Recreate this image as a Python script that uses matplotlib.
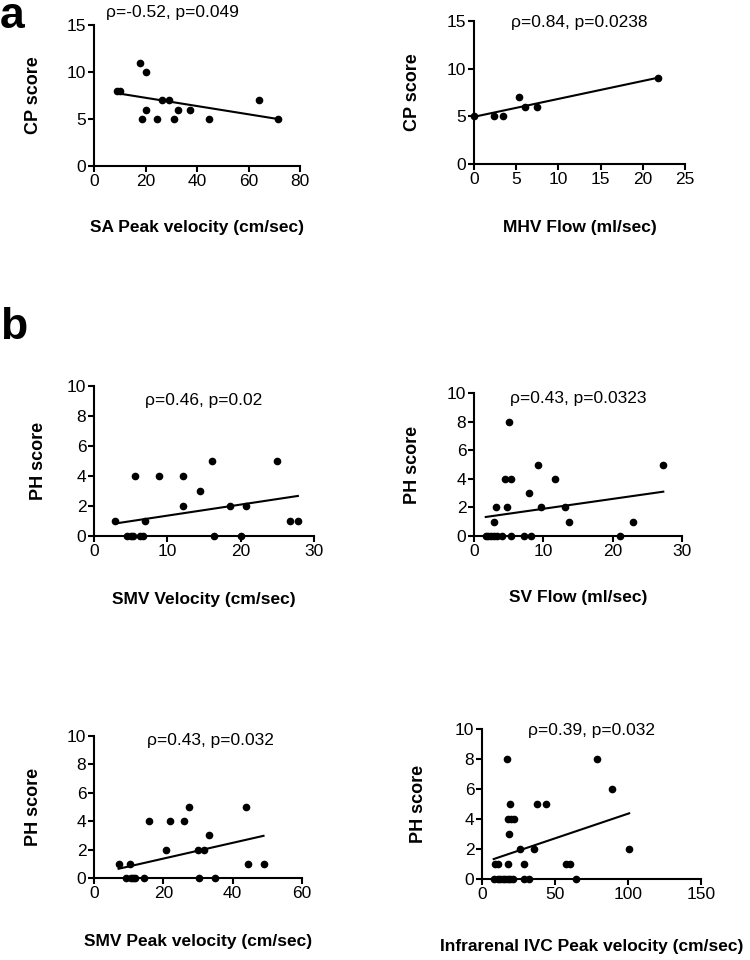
import numpy as np
import matplotlib.pyplot as plt

plt.rcParams['font.family'] = ['Liberation Sans', 'DejaVu Sans']

W, H = 750, 960

# ---- panel a: CP score ----
sa_peak_x = [8.8, 10.1, 17.7, 20.0, 18.5, 20.0, 24.5, 26.5, 29.0, 31.0, 32.6, 37.4, 44.5, 64.1, 71.4]
sa_peak_cp = [8, 8, 11, 10, 5, 6, 5, 7, 7, 5, 6, 6, 5, 7, 5]
sa_peak_fit = [7.75, 5.0]

mhv_flow_x = [0.0, 2.4, 3.4, 5.3, 6.0, 7.5, 21.8]
mhv_flow_cp = [5, 5, 5, 7, 6, 6, 9]
mhv_flow_fit = [4.95, 9.05]

# ---- panel b: PH score ----
smv_vel_x = [2.85, 4.5, 5.0, 5.3, 5.6, 6.3, 6.7, 6.9, 8.8, 12.1, 12.1, 14.5, 16.1, 16.4,
             18.6, 20.1, 20.7, 24.9, 26.7, 27.8]
smv_vel_ph = [1, 0, 0, 0, 4, 0, 0, 1, 4, 4, 2, 3, 5, 0, 2, 0, 2, 5, 1, 1]
smv_vel_fit = [0.83, 2.67]

sv_flow_x = [1.7, 2.0, 2.4, 2.9, 3.3, 4.0, 5.4, 7.2, 8.2, 21.0,
             2.95, 3.2, 4.5, 4.8, 5.1, 5.3, 8.0, 9.3, 9.6, 11.7, 13.1, 13.7, 22.9, 27.3]
sv_flow_ph = [0, 0, 0, 0, 0, 0, 0, 0, 0, 0,
              1, 2, 4, 2, 8, 4, 3, 5, 2, 4, 2, 1, 1, 5]
sv_flow_fit = [1.33, 3.1]

smv_peak_x = [7.1, 9.3, 10.3, 10.6, 11.3, 11.9, 14.3, 15.8, 20.7, 22.0, 25.9, 27.3, 30.0,
              30.2, 31.6, 33.1, 34.8, 43.9, 44.4, 48.9]
smv_peak_ph = [1, 0, 1, 0, 0, 0, 0, 4, 2, 4, 4, 5, 2, 0, 2, 3, 0, 5, 1, 1]
smv_peak_fit = [0.65, 2.97]

ivc_peak_x = [8.0, 10.8, 12.6, 14.2, 15.8, 17.7, 19.5, 21.1, 28.7, 31.9, 64.7,
              9.1, 11.2, 17.7, 28.9, 57.8, 60.1,
              26.0, 35.8, 100.8, 18.3, 18.1, 19.9, 21.6,
              19.3, 37.8, 43.6, 89.2, 17.2, 78.9]
ivc_peak_ph = [0, 0, 0, 0, 0, 0, 0, 0, 0, 0, 0,
               1, 1, 1, 1, 1, 1,
               2, 2, 2, 3, 4, 4, 4,
               5, 5, 5, 6, 8, 8]
ivc_peak_fit = [1.33, 4.38]

stats = ["ρ=-0.52, p=0.049", "ρ=0.84, p=0.0238", "ρ=0.46, p=0.02",
         "ρ=0.43, p=0.0323", "ρ=0.43, p=0.032", "ρ=0.39, p=0.032"]
xlabels = ["SA Peak velocity (cm/sec)", "MHV Flow (ml/sec)", "SMV Velocity (cm/sec)",
           "SV Flow (ml/sec)", "SMV Peak velocity (cm/sec)",
           "Infrarenal IVC Peak velocity (cm/sec)"]
ylabels = ["CP score", "CP score", "PH score", "PH score", "PH score", "PH score"]
xticks = [[0, 20, 40, 60, 80], [0, 5, 10, 15, 20, 25], [0, 10, 20, 30],
          [0, 10, 20, 30], [0, 20, 40, 60], [0, 50, 100, 150]]
yticks = [[0, 5, 10, 15], [0, 5, 10, 15], [0, 2, 4, 6, 8, 10],
          [0, 2, 4, 6, 8, 10], [0, 2, 4, 6, 8, 10], [0, 2, 4, 6, 8, 10]]

panels = [(sa_peak_x, sa_peak_cp, sa_peak_fit),
          (mhv_flow_x, mhv_flow_cp, mhv_flow_fit),
          (smv_vel_x, smv_vel_ph, smv_vel_fit),
          (sv_flow_x, sv_flow_ph, sv_flow_fit),
          (smv_peak_x, smv_peak_ph, smv_peak_fit),
          (ivc_peak_x, ivc_peak_ph, ivc_peak_fit)]

# layout in pixels: axes box (left, right, top, bottom), stats text centre, label offsets
boxes = [(94, 300, 25, 166), (474, 685, 21, 164), (94, 314, 386, 536),
         (474, 682, 393, 536), (94, 302, 736, 878), (482, 701, 729, 879)]
stat_pos = [(172, 12), (579, 22), (204, 401), (578, 398), (210, 741), (592, 731)]
xlab_off = [54, 56, 56, 54, 56, 60]
ylab_x = [42, 421, 47, 421, 42, 427]

fig = plt.figure(figsize=(W / 100, H / 100), dpi=100)

for i, (x, y, fit) in enumerate(panels):
    l, r, t, b = boxes[i]
    ax = fig.add_axes([l / W, 1 - b / H, (r - l) / W, (b - t) / H])
    x = np.array(x)
    ax.plot(x, y, 'o', color='black', ms=4.5, clip_on=False, zorder=3)
    ax.plot([x.min(), x.max()], fit, color='black', lw=1.5, clip_on=False, zorder=2)

    ax.set_xlim(xticks[i][0], xticks[i][-1])
    ax.set_ylim(yticks[i][0], yticks[i][-1])
    ax.set_xticks(xticks[i])
    ax.set_yticks(yticks[i])
    for s in ['top', 'right']:
        ax.spines[s].set_visible(False)
    for s in ['left', 'bottom']:
        ax.spines[s].set_linewidth(1.5)
    ax.tick_params(direction='out', length=4.5, width=1.5, labelsize=12.5, pad=1)

    ax.set_xlabel(xlabels[i], fontsize=12.5, fontweight='bold')
    ax.set_ylabel(ylabels[i], fontsize=13, fontweight='bold')
    ax.xaxis.set_label_coords(0.5, -xlab_off[i] / (b - t))
    ax.yaxis.set_label_coords((ylab_x[i] - l) / (r - l), 0.5)

    sx, sy = stat_pos[i]
    fig.text(sx / W, 1 - sy / H, stats[i], ha='center', va='center', fontsize=12.5)

fig.text(0 / W, 1 - 28 / H, "a", fontsize=32, fontweight='bold', ha='left', va='baseline')
fig.text(0 / W, 1 - 339 / H, "b", fontsize=32, fontweight='bold', ha='left', va='baseline')

fig.savefig("out.png", dpi=100)
